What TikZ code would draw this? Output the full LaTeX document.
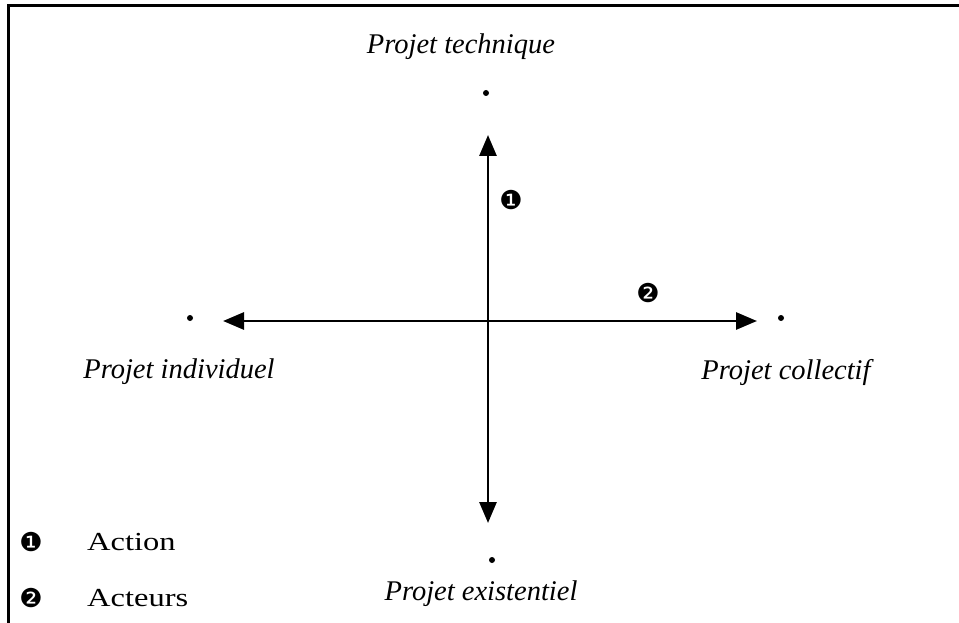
\documentclass[tikz,border=0pt]{standalone}
\usepackage{fontspec}
\usepackage{graphicx}
\setmainfont{Liberation Serif}
\newfontfamily\dingfont{DejaVu Sans}
\usetikzlibrary{arrows.meta}
\tikzset{
  axis/.style={line width=2.8pt, {Triangle[length=21pt,width=17pt]}-{Triangle[length=21pt,width=17pt]}},
  pole/.style={circle, fill=black, inner sep=0pt, minimum size=6pt},
  lab/.style={font=\fontsize{28.5}{30}\selectfont\itshape, inner sep=0pt},
  num/.style={font=\fontsize{26}{26}\dingfont, inner sep=0pt},
  leg/.style={font=\fontsize{26}{28}\selectfont, inner sep=0pt, anchor=west},
  frame/.style={line width=3pt}
}
\begin{document}
\begin{tikzpicture}[x=1pt,y=-1pt]
\useasboundingbox (0,0) rectangle (959,623);
\fill[white] (0,0) rectangle (959,623);
% frame
\coordinate (ftr) at (959,6);
\coordinate (ftl) at (8,6);
\coordinate (fbl) at (8,623);
\draw[frame] (ftr) -- (ftl) -- (fbl);
% axis ends
\coordinate (top) at (488,135);
\coordinate (bot) at (488,523);
\coordinate (left) at (223,321);
\coordinate (right) at (757,321);
\draw[axis] (top) -- (bot);
\draw[axis] (left) -- (right);
% poles
\node[pole] (pT) at (486,93) {};
\node[pole] (pB) at (492,560) {};
\node[pole] (pL) at (190,318) {};
\node[pole] (pR) at (781,318) {};
% labels
\node[lab] (lT) at (461,47) {Projet technique};
\node[lab] (lL) at (179,372) {Projet individuel};
\node[lab] (lR) at (786,372) {Projet collectif};
\node[lab] (lB) at (481,594) {Projet existentiel};
% numbers
\node[num] (n1) at (511,200) {❶};
\node[num] (n2) at (648,293) {❷};
% legend
\node[num] (g1) at (31,542) {❶};
\node[leg] (t1) at (87,542) {\scalebox{1.25}[1]{Action}};
\node[num] (g2) at (31,598) {❷};
\node[leg] (t2) at (87,598) {\scalebox{1.25}[1]{Acteurs}};
\end{tikzpicture}
\end{document}
